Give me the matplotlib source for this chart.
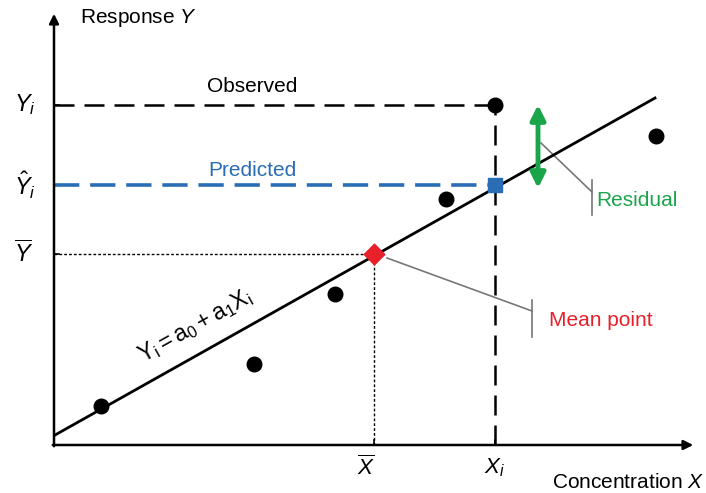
import matplotlib.pyplot as plt
from matplotlib.patches import FancyArrowPatch

plt.rcParams['font.family'] = ['Liberation Sans', 'DejaVu Sans']
plt.rcParams['mathtext.fontset'] = 'custom'
plt.rcParams['mathtext.rm'] = 'Liberation Sans'
plt.rcParams['mathtext.it'] = 'Liberation Sans:italic'

# observed calibration points (concentration, response)
conc = [47, 200, 281, 392, 441, 602]
resp = [39, 81, 151, 246, 340, 309]

# fitted line Y = a0 + a1 X
a0 = 9.4
a1 = 0.5617
line_x = [1, 601]

# mean point and the highlighted point i
x_mean, y_mean = 320, 191
x_i, y_obs, y_pred = 441, 340, 260

blue = '#2a6db5'
green = '#1aa54b'
red = '#e8202a'
grey = '#777777'

fig = plt.figure(figsize=(7.06, 4.93), dpi=100)
ax = fig.add_axes([0, 0, 1, 1])
ax.set_xlim(-54, 652)
ax.set_ylim(-48, 445)
ax.axis('off')

# axes with arrows
ax.annotate('', xy=(0, 434), xytext=(0, -4),
            arrowprops=dict(arrowstyle='-|>', color='black', lw=1.8, mutation_scale=14))
ax.annotate('', xy=(642, 0), xytext=(-4, 0),
            arrowprops=dict(arrowstyle='-|>', color='black', lw=1.8, mutation_scale=14))

# fitted line
ly = [a0 + a1 * x for x in line_x]
ax.plot(line_x, ly, color='black', lw=2, zorder=3)

# guide lines
ax.plot([0, x_i], [y_obs, y_obs], color='black', lw=1.8, ls=(0, (8, 4)))
ax.plot([x_i, x_i], [0, y_obs], color='black', lw=1.8, ls=(0, (8, 4)))
ax.plot([0, x_i - 4], [y_pred, y_pred], color=blue, lw=2.6, ls=(0, (7, 3)))
ax.plot([0, x_mean], [y_mean, y_mean], color='black', lw=1.0, ls=(0, (2, 1.5)))
ax.plot([x_mean, x_mean], [0, y_mean], color='black', lw=1.0, ls=(0, (2, 1.5)))

# small ticks
for yv, c in [(y_obs, 'black'), (y_pred, blue), (y_mean, 'black')]:
    ax.plot([0, 5], [yv, yv], color=c, lw=1.2)
for xv in [x_mean, x_i]:
    ax.plot([xv, xv], [0, 5], color='black', lw=1.2)

# data points
ax.scatter(conc, resp, s=110, color='black', zorder=4)
ax.scatter([x_mean], [y_mean], marker='D', s=110, color=red, zorder=5)
ax.scatter([x_i], [y_pred], marker='s', s=95, color=blue, zorder=5)

# residual arrow
res = FancyArrowPatch((484, 254), (484, 343), arrowstyle='<|-|>', mutation_scale=22,
                      color=green, lw=3.5, zorder=6)
ax.add_patch(res)

# leaders
ax.plot([487, 538], [302, 253], color=grey, lw=1.2)
ax.plot([538, 538], [230, 265], color=grey, lw=1.2)
ax.plot([333, 478], [187, 134], color=grey, lw=1.2)
ax.plot([478, 478], [108, 145], color=grey, lw=1.2)

# labels
fs = 15
ax.text(26, 427, 'Response $Y$', fontsize=fs, va='center', ha='left')
ax.text(574, -37, 'Concentration $X$', fontsize=fs, va='center', ha='center')
ax.text(-40, y_obs, '$Y_i$', fontsize=17, va='center', ha='left')
ax.text(-40, y_pred, r'$\hat{Y}_i$', fontsize=17, va='center', ha='left')
ax.text(-40, y_mean, r'$\overline{Y}$', fontsize=17, va='center', ha='left')
ax.text(x_mean - 8, -23, r'$\overline{X}$', fontsize=16, va='center', ha='center')
ax.text(x_i, -23, '$X_i$', fontsize=16, va='center', ha='center')
ax.text(198, 358, 'Observed', fontsize=fs, va='center', ha='center')
ax.text(198, 275, 'Predicted', fontsize=fs, va='center', ha='center', color=blue)
ax.text(542, 245, 'Residual', fontsize=fs, va='center', ha='left', color=green)
ax.text(495, 125, 'Mean point', fontsize=fs, va='center', ha='left', color=red)
ax.text(141, 119, r'$\mathrm{Y_i = a_0 + a_1X_i}$', fontsize=16.5, va='center', ha='center',
        rotation=29.3, rotation_mode='anchor')

fig.savefig('out.png', dpi=100)
